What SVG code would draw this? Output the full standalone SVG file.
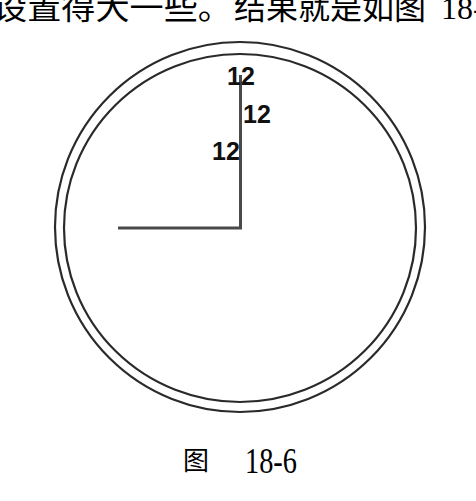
<svg xmlns="http://www.w3.org/2000/svg" width="476" height="501" viewBox="0 0 476 501">
<style>
.ring{fill:none;stroke:#2a2a2a;stroke-width:2.2}
.hand{fill:none;stroke:#4a4a4a;stroke-width:3}
.num{font-family:"Liberation Sans",Arial,sans-serif;font-weight:bold;font-size:25px;fill:#111}
.body{font-family:"Liberation Serif","Noto Sans CJK SC",serif;font-size:32px;fill:#000}
.cap{font-family:"Liberation Serif","Noto Sans CJK SC",serif;fill:#000}
</style>
<rect width="476" height="501" fill="#fff"/>
<text class="body" x="-7" y="19" textLength="239" lengthAdjust="spacingAndGlyphs">设置得大一些。</text>
<text class="body" x="234" y="19" textLength="192" lengthAdjust="spacingAndGlyphs">结果就是如图</text>
<text class="body" x="441" y="19">18-</text>
<g id="clock">
<ellipse class="ring" cx="240" cy="227" rx="185" ry="185"/>
<ellipse class="ring" cx="240" cy="228" rx="176" ry="174"/>
</g>
<g id="hands">
<polyline class="hand" points="118,228 240.5,228 240.5,75"/>
</g>
<g id="labels">
<text class="num" x="227" y="85">12</text>
<text class="num" x="243" y="123">12</text>
<text class="num" x="212" y="160">12</text>
</g>
<g id="caption">
<text class="cap" x="183" y="470" font-size="26">图</text>
<text class="cap" x="245" y="473" font-size="35" textLength="52" lengthAdjust="spacingAndGlyphs">18-6</text>
</g>
</svg>
